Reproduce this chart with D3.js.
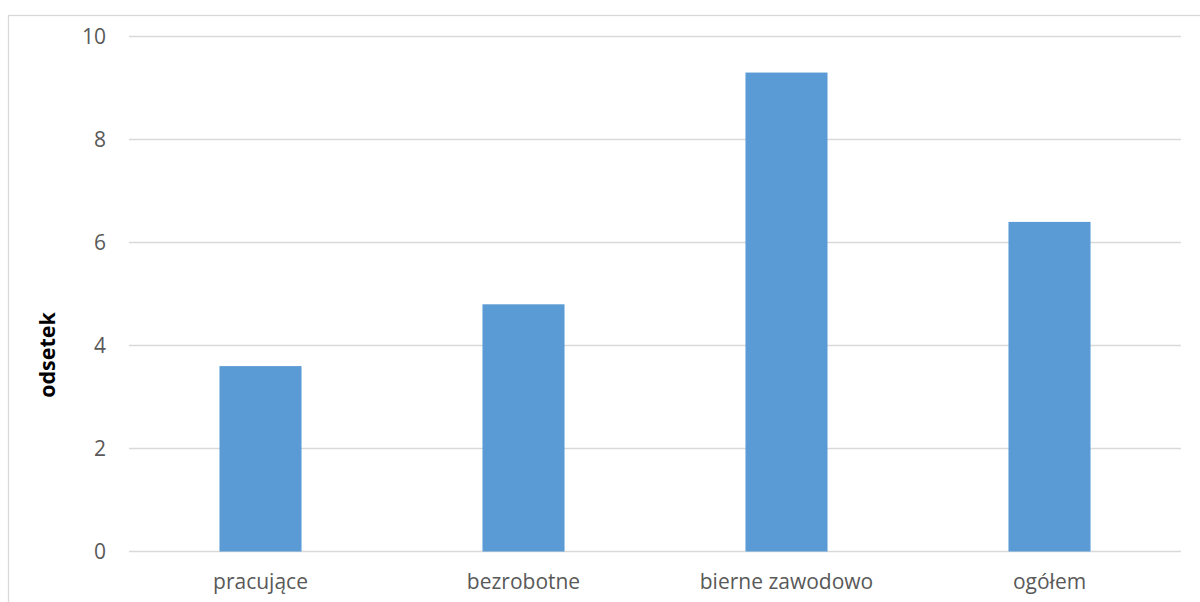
<!DOCTYPE html>
<html>
<head>
<meta charset="utf-8">
<script src="https://cdn.jsdelivr.net/npm/d3@7"></script>
<style>
  html, body { margin: 0; padding: 0; background: #fff; }
  svg { display: block; }
</style>
</head>
<body>
<svg id="chart" width="1200" height="602"></svg>
<script>
// Odsetek osób według statusu na rynku pracy
const categories = ["pracujące", "bezrobotne", "bierne zawodowo", "ogółem"];
const values = [3.6, 4.8, 9.3, 6.4];
const yTicks = [0, 2, 4, 6, 8, 10];
const yTitle = "odsetek";

const svg = d3.select("#chart");
const plot = { left: 129, right: 1181, top: 36.5, bottom: 551.5 };
const font = "'Open Sans', 'Liberation Sans', sans-serif";

// chart frame
svg.append("rect")
  .attr("x", 8.5).attr("y", 15.5)
  .attr("width", 1200).attr("height", 600)
  .attr("fill", "#fff").attr("stroke", "#d9d9d9").attr("stroke-width", 1.3);

const x = d3.scaleBand().domain(categories).range([plot.left, plot.right]).paddingInner(0.688).paddingOuter(0.344);
const y = d3.scaleLinear().domain([0, 10]).range([plot.bottom, plot.top]);

// horizontal gridlines
svg.append("g")
  .selectAll("line")
  .data(yTicks)
  .join("line")
  .attr("x1", plot.left).attr("x2", plot.right)
  .attr("y1", d => y(d)).attr("y2", d => y(d))
  .attr("stroke", "#d9d9d9").attr("stroke-width", 1.3);

// bars
svg.append("g")
  .selectAll("rect")
  .data(categories)
  .join("rect")
  .attr("x", d => x(d))
  .attr("width", x.bandwidth())
  .attr("y", (d, i) => y(values[i]))
  .attr("height", (d, i) => y(0) - y(values[i]))
  .attr("fill", "#5b9bd5");

// y axis labels
const yAxis = svg.append("g")
  .attr("transform", `translate(${plot.left - 23},0)`)
  .call(d3.axisLeft(y).tickValues(yTicks).tickSize(0).tickPadding(0).tickFormat(d3.format("d")));
yAxis.select(".domain").remove();
yAxis.selectAll("text")
  .attr("fill", "#595959").attr("font-size", 21).attr("font-family", font);

// x axis labels
const xAxis = svg.append("g")
  .attr("transform", `translate(0,${plot.bottom})`)
  .call(d3.axisBottom(x).tickSize(0).tickPadding(23));
xAxis.select(".domain").remove();
xAxis.selectAll("text")
  .attr("fill", "#595959").attr("font-size", 21).attr("font-family", font);

// y axis title
svg.append("text")
  .attr("transform", `translate(55,${355}) rotate(-90)`)
  .attr("text-anchor", "middle")
  .attr("font-size", 21.5).attr("font-weight", "bold")
  .attr("font-family", font).attr("fill", "#000")
  .text(yTitle);
</script>
</body>
</html>
